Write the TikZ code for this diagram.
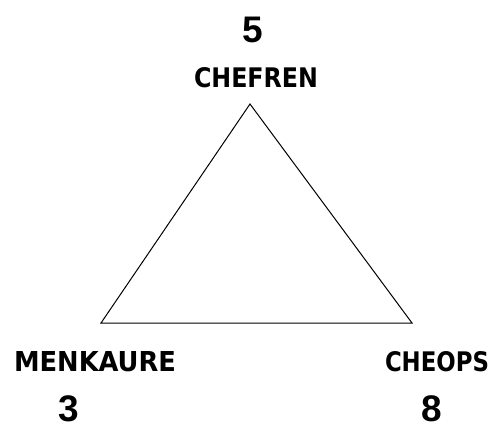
\documentclass[tikz,border=0pt]{standalone}
\usepackage{fontspec}
\newfontfamily\labfont{DejaVu Sans Condensed}
\newfontfamily\numfont{Liberation Sans}
\newcommand{\labtext}[2]{\resizebox{#1pt}{20pt}{\labfont\bfseries #2}}
\begin{document}
\begin{tikzpicture}[x=1pt,y=-1pt,
  lab/.style={inner sep=0pt},
  num/.style={inner sep=0pt,font=\numfont\bfseries\fontsize{37}{37}\selectfont},
  edge/.style={draw=black,line width=1pt,line join=miter}]
\useasboundingbox (0,0) rectangle (492,426);
\coordinate (t) at (250,104);
\coordinate (l) at (101,323);
\coordinate (r) at (412,323);
\draw[edge] (t) -- (l) -- (r) -- cycle;
\node[num] (n5) at (253,30) {5};
\node[lab] (chef) at (256,78) {\labtext{124}{CHEFREN}};
\node[lab] (menk) at (95,362) {\labtext{162}{MENKAURE}};
\node[num] (n3) at (69,409) {3};
\node[lab] (cheo) at (437,362) {\labtext{104}{CHEOPS}};
\node[num] (n8) at (431.5,409) {8};
\end{tikzpicture}
\end{document}
